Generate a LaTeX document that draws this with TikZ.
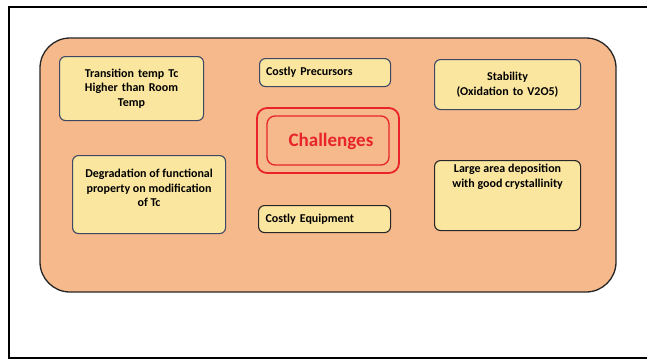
\documentclass[tikz,border=0pt]{standalone}
\usepackage{fontspec}
\setmainfont{Carlito}
\definecolor{panelfill}{RGB}{245,185,140}
\definecolor{itemfill}{RGB}{251,230,160}
\definecolor{itemline}{RGB}{60,72,100}
\definecolor{hotred}{RGB}{232,36,42}
\begin{document}
\begin{tikzpicture}[x=1pt,y=-1pt,
  item/.style={draw=itemline,line width=1.1pt,fill=itemfill,rounded corners=6pt,
    align=center,font=\bfseries\fontsize{12}{14.5}\selectfont,inner sep=2pt},
  darkitem/.style={item,draw=black!85},
  frame/.style={draw=black,line width=1.6pt}]
\useasboundingbox (0,0) rectangle (647,360);
% page frame, running off the right edge
\draw[frame] (9,7) rectangle (670,358);
% orange panel
\node[draw=black!85,line width=1.3pt,fill=panelfill,rounded corners=30pt,
  minimum width=576pt,minimum height=254pt] (panel) at (328,165) {};
% challenge items
\node[item,minimum width=144pt,minimum height=64pt,anchor=north west,text width=136pt] (tc) at (59,56)
  {Transition temp Tc\\Higher than Room\\Temp};
\node[item,minimum width=131pt,minimum height=28pt,anchor=north west,text width=118pt,align=left,inner xsep=5pt] (prec) at (259,58)
  {Costly Precursors};
\node[item,minimum width=146pt,minimum height=50pt,anchor=north west,text width=138pt] (stab) at (434,59)
  {Stability\\(Oxidation to V2O5)};
\node[item,minimum width=153pt,minimum height=78pt,anchor=north west,inner sep=0pt] (degr) at (72,155)
  {\begin{minipage}[t][78pt][t]{150pt}\centering\vspace*{14pt}Degradation of functional\\property on modification\\of Tc\end{minipage}};
\node[darkitem,minimum width=132pt,minimum height=27pt,anchor=north west,text width=118pt,align=left,inner xsep=5pt] (equip) at (258,205)
  {Costly Equipment};
\node[darkitem,minimum width=146pt,minimum height=70pt,anchor=north west,inner sep=0pt] (large) at (434,160)
  {\begin{minipage}[t][70pt][t]{144pt}\centering\vspace*{4pt}Large area deposition\\with good crystallinity\end{minipage}};
% central node with a double red outline
\node[draw=hotred,line width=1.8pt,rounded corners=10pt,minimum width=142pt,minimum height=65pt] (chalout) at (328,140.5) {};
\node[draw=hotred,line width=1.3pt,rounded corners=8pt,minimum width=122pt,minimum height=49pt] (chal) at (chalout.center) {};
\node[text=hotred,font=\bfseries\fontsize{19}{22}\selectfont,inner sep=0pt] (chaltext) at ([xshift=3pt,yshift=-1pt]chal.center) {Challenges};
\end{tikzpicture}
\end{document}
